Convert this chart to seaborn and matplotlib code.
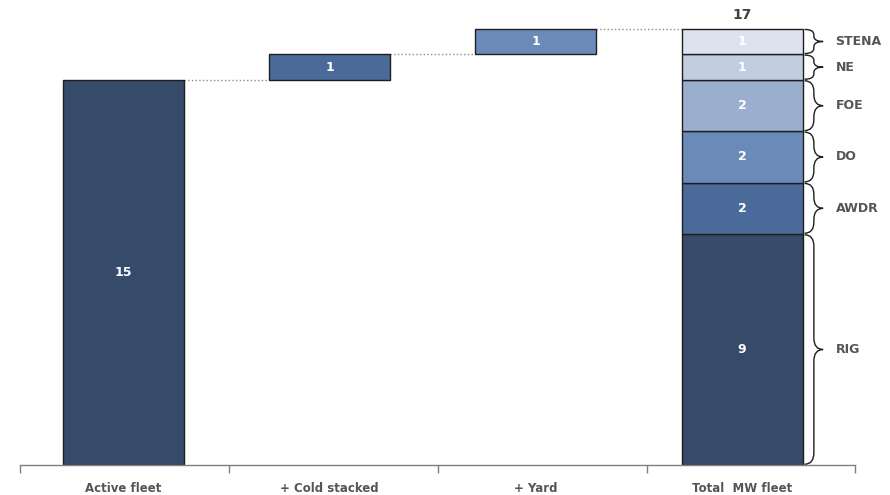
import numpy as np
import pandas as pd
import matplotlib
matplotlib.use("Agg")
import matplotlib.pyplot as plt
from matplotlib.path import Path
from matplotlib.patches import PathPatch
import seaborn as sns

# Fleet build-up (number of units)
categories = ["Active fleet", "+ Cold stacked", "+ Yard", "Total  MW fleet"]
step_values = [15, 1, 1]
step_colors = ["#364A6A", "#4A6A9A", "#6A8AB8"]

# Breakdown of the total fleet by owner, bottom to top
owners = ["RIG", "AWDR", "DO", "FOE", "NE", "STENA"]
owner_values = [9, 2, 2, 2, 1, 1]
owner_colors = ["#364A6A", "#4A6A9A", "#6A8AB8", "#9AAFCF", "#C2CDE0", "#DDE3EE"]

sns.set_theme(style="white")
plt.rcParams["font.family"] = ["DejaVu Sans"]

TEXT = "#555555"
EDGE = "#1E1E1E"
BAR_W = 0.587

# Build the segment table: floating steps then the stacked total
rows = []
base = 0
for cat, val, col in zip(categories[:-1], step_values, step_colors):
    rows.append(dict(category=cat, value=val, bottom=base, color=col, label=str(val)))
    base += val
stack = 0
for name, val, col in zip(owners, owner_values, owner_colors):
    rows.append(dict(category=categories[-1], value=val, bottom=stack, color=col,
                     label=str(val), owner=name))
    stack += val
segments = pd.DataFrame(rows)
total = sum(owner_values)

fig = plt.figure(figsize=(8.9, 4.95), dpi=100)
ax = fig.add_axes([20 / 890, 30 / 495, 835 / 890, 462 / 495])

for _, seg in segments.iterrows():
    sns.barplot(x=[seg["category"]], y=[seg["value"]], order=categories,
                bottom=seg["bottom"], color=seg["color"], width=BAR_W,
                edgecolor=EDGE, linewidth=1.0, saturation=1, ax=ax)
    xi = categories.index(seg["category"])
    ax.text(xi, seg["bottom"] + seg["value"] / 2, seg["label"], ha="center",
            va="center", color="white", fontsize=9, fontweight="bold")

# Dotted connectors between consecutive steps
level = 0
for i, val in enumerate(step_values):
    level += val
    ax.plot([i + BAR_W / 2, i + 1 - BAR_W / 2], [level, level], ls=":",
            color="#8C8C8C", lw=1.0, zorder=0)

# Total above the stacked bar
ax.text(3, total + 0.25, str(total), ha="center", va="bottom", color="#404040",
        fontsize=10, fontweight="bold")


def curly_brace(ax, x0, y0, y1, width, color="#1E1E1E"):
    """Right-facing curly brace spanning y0..y1 starting at x0."""
    ymid = (y0 + y1) / 2
    h = abs(y1 - y0)
    r = min(0.22 * h, 0.45)
    xm = x0 + width * 0.5
    xt = x0 + width
    verts = [
        (x0, y1), (xm, y1), (xm, y1 - r),
        (xm, ymid + r),
        (xm, ymid), (xt, ymid),
        (xm, ymid), (xm, ymid - r),
        (xm, y0 + r),
        (xm, y0), (x0, y0),
    ]
    codes = [Path.MOVETO, Path.CURVE3, Path.CURVE3,
             Path.LINETO,
             Path.CURVE3, Path.CURVE3,
             Path.CURVE3, Path.CURVE3,
             Path.LINETO,
             Path.CURVE3, Path.CURVE3]
    ax.add_patch(PathPatch(Path(verts, codes), fill=False, edgecolor=color,
                           lw=1.0, clip_on=False))
    return xt


bx = 3 + BAR_W / 2 + 0.01
for _, seg in segments[segments["category"] == categories[-1]].iterrows():
    y0 = seg["bottom"] + 0.03
    y1 = seg["bottom"] + seg["value"] - 0.03
    tip = curly_brace(ax, bx, y0, y1, 0.09)
    ax.text(tip + 0.06, (y0 + y1) / 2, seg["owner"], ha="left", va="center",
            color=TEXT, fontsize=9, fontweight="bold")

ax.set_xlim(-0.502, 3.548)
ax.set_ylim(0, 18)
ax.set_yticks([])
ax.set_ylabel("")
ax.set_xlabel("")
for side in ["top", "right", "left"]:
    ax.spines[side].set_visible(False)
ax.spines["bottom"].set_color("#7F7F7F")
ax.spines["bottom"].set_linewidth(1.0)

ax.set_xticks(range(len(categories)))
ax.set_xticklabels(categories, color=TEXT, fontsize=8.5, fontweight="bold")
ax.tick_params(axis="x", which="major", length=0, pad=12)
ax.set_xticks([-0.502, 0.512, 1.526, 2.539, 3.548], minor=True)
ax.tick_params(axis="x", which="minor", length=6, color="#7F7F7F", width=1.0,
               direction="out", bottom=True)

fig.savefig("out.png", dpi=100)
